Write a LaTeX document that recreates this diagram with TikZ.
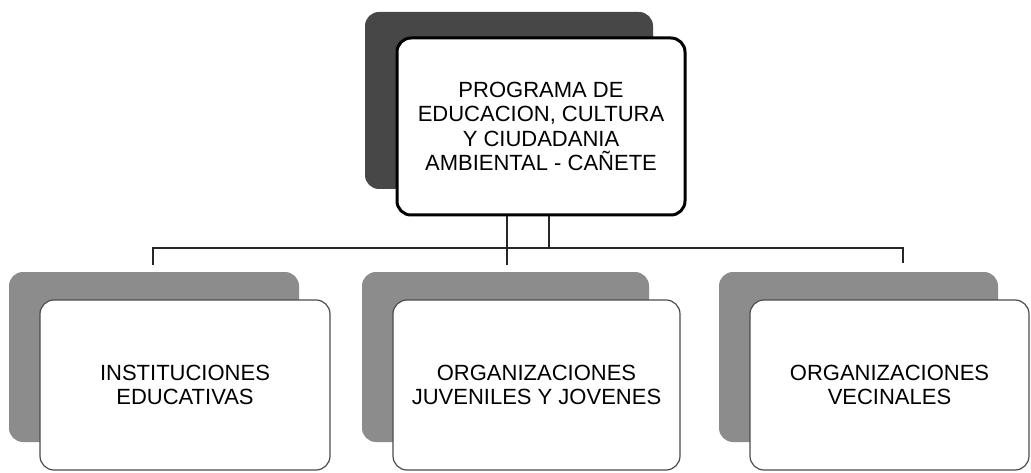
\documentclass[tikz,border=0pt]{standalone}
\usepackage{fontspec}
\setmainfont{Liberation Sans}
\usetikzlibrary{shadows}
\begin{document}
\begin{tikzpicture}[x=1pt,y=-1pt,
  txt/.style={align=center, font=\fontsize{22}{24.5}\selectfont, inner sep=0pt},
  topbox/.style={txt, draw=black, line width=3pt, fill=white, rounded corners=14pt,
    minimum width=288pt, minimum height=177pt,
    general shadow={fill=black!72, shadow xshift=-32pt, shadow yshift=26pt}},
  subbox/.style={txt, draw=black!70, line width=1.2pt, fill=white, rounded corners=14pt,
    minimum height=170pt,
    general shadow={fill=black!45, shadow xshift=-31pt, shadow yshift=28pt}},
  conn/.style={line width=2.5pt, draw=black!85}]
\useasboundingbox (0,0) rectangle (1031,473);
\fill[white] (0,0) rectangle (1031,473);

\node[topbox] (top) at (541,126.5) {PROGRAMA DE\\EDUCACION, CULTURA\\Y CIUDADANIA\\AMBIENTAL - CAÑETE};

\coordinate (j1) at (507,248);
\coordinate (j2) at (549,248);
\coordinate (bl) at (153,248);
\coordinate (br) at (903,248);
\coordinate (el) at (153,265);
\coordinate (em) at (507,265);
\coordinate (er) at (903,263);
\draw[conn] (j1 |- top.south) -- (j1) -- (em);
\draw[conn] (j2 |- top.south) -- (j2);
\draw[conn] (el) -- (bl) -- (br) -- (er);

\node[subbox, minimum width=290pt] (inst) at (185,385) {INSTITUCIONES\\EDUCATIVAS};
\node[subbox, minimum width=287pt] (juv) at (536.5,385) {ORGANIZACIONES\\JUVENILES Y JOVENES};
\node[subbox, minimum width=279pt] (vec) at (889.5,385) {ORGANIZACIONES\\VECINALES};
\end{tikzpicture}
\end{document}
